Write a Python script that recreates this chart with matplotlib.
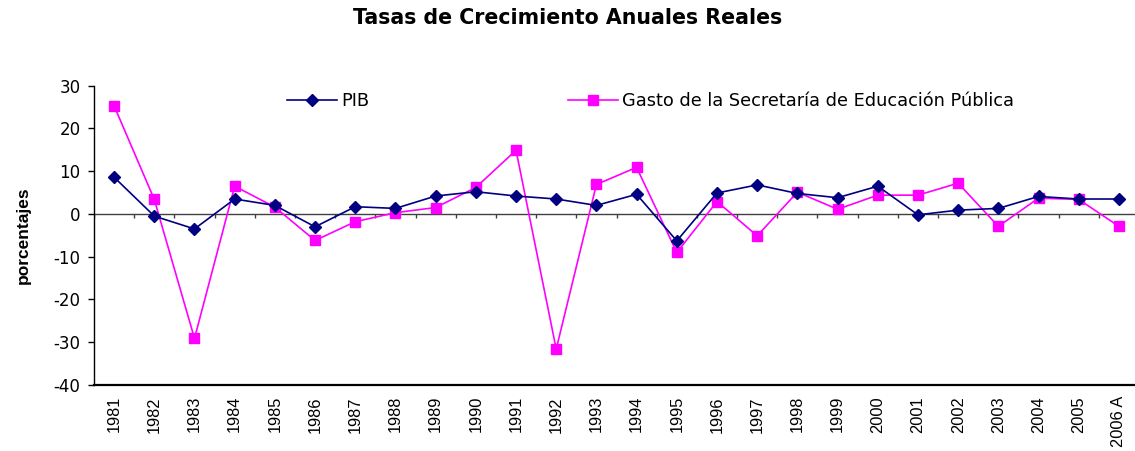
import matplotlib.pyplot as plt
import numpy as np

plt.rcParams["font.family"] = ["Liberation Sans", "DejaVu Sans"]
plt.rcParams["axes.unicode_minus"] = False

years = [str(y) for y in range(1981, 2006)] + ["2006 A"]

pib = [8.6, -0.5, -3.5, 3.5, 2.0, -3.0, 1.7, 1.3, 4.2, 5.2, 4.2, 3.5, 2.0,
       4.6, -6.3, 4.9, 6.8, 4.8, 3.8, 6.5, -0.2, 0.9, 1.3, 4.1, 3.5, 3.5]
gasto_sep = [25.3, 3.4, -29.1, 6.5, 1.6, -6.2, -1.8, 0.3, 1.5, 6.2, 14.9, -31.6, 6.9,
             10.9, -9.0, 2.9, -5.1, 5.1, 1.1, 4.4, 4.4, 7.2, -2.9, 3.7, 3.4, -2.9]

y_ticks = [-40, -30, -20, -10, 0, 10, 20, 30]

NAVY = "#000080"
MAGENTA = "#FF00FF"
# horizontal text in the original is drawn wide, DejaVu gets closer to that
WIDE = ["DejaVu Sans"]


def main():
    fig = plt.figure(figsize=(11.35, 4.51), dpi=100)
    ax = fig.add_axes([94 / 1135, 66 / 451, 1041 / 1135, 299.3 / 451])

    x = np.arange(len(years))
    pib_line, = ax.plot(x, pib, color=NAVY, lw=1.2, marker="D", markersize=6.5,
                        zorder=4)
    sep_line, = ax.plot(x, gasto_sep, color=MAGENTA, lw=1.2, marker="s",
                        markersize=7.5, zorder=3)

    # category axis crossing at zero, with ticks between categories
    ax.axhline(0, color="#404040", lw=1.0, zorder=2)
    bounds = np.arange(len(years) + 1) - 0.5
    ax.vlines(bounds, -1.0, 0, color="#404040", lw=1.0, zorder=2)

    ax.set_xlim(-0.5, len(years) - 0.6)
    ax.set_ylim(min(y_ticks), max(y_ticks))
    ax.set_yticks(y_ticks)
    ax.set_yticklabels([str(v) for v in y_ticks], family=WIDE, fontsize=12)
    ax.set_xticks(x)
    ax.set_xticklabels(years, rotation=90, fontsize=11.8)
    ax.tick_params(axis="x", length=0, pad=8)
    ax.tick_params(axis="y", length=4.3, width=1, pad=5.5)

    for side in ["top", "right"]:
        ax.spines[side].set_visible(False)
    ax.spines["left"].set_linewidth(1.0)
    ax.spines["bottom"].set_linewidth(1.6)

    ax.set_ylabel("porcentajes", fontsize=12.5, fontweight="bold")
    ax.yaxis.set_label_coords(-0.0605, 0.5)

    fig.suptitle("Tasas de Crecimiento Anuales Reales", family=WIDE,
                 fontsize=14.8, fontweight="bold", x=0.5, y=0.96, va="center")

    legend_kw = dict(loc="center left", frameon=False, borderpad=0,
                     borderaxespad=0, handlelength=2.8, handletextpad=0.25,
                     prop={"family": WIDE, "size": 12.8})
    leg1 = ax.legend([pib_line], ["PIB"], bbox_to_anchor=(0.1854, 0.949),
                     **legend_kw)
    ax.add_artist(leg1)
    ax.legend([sep_line], ["Gasto de la Secretaría de Educación Pública"],
              bbox_to_anchor=(0.4553, 0.949), **legend_kw)

    plt.savefig("out.png", dpi=100)
    plt.close()


if __name__ == "__main__":
    main()
